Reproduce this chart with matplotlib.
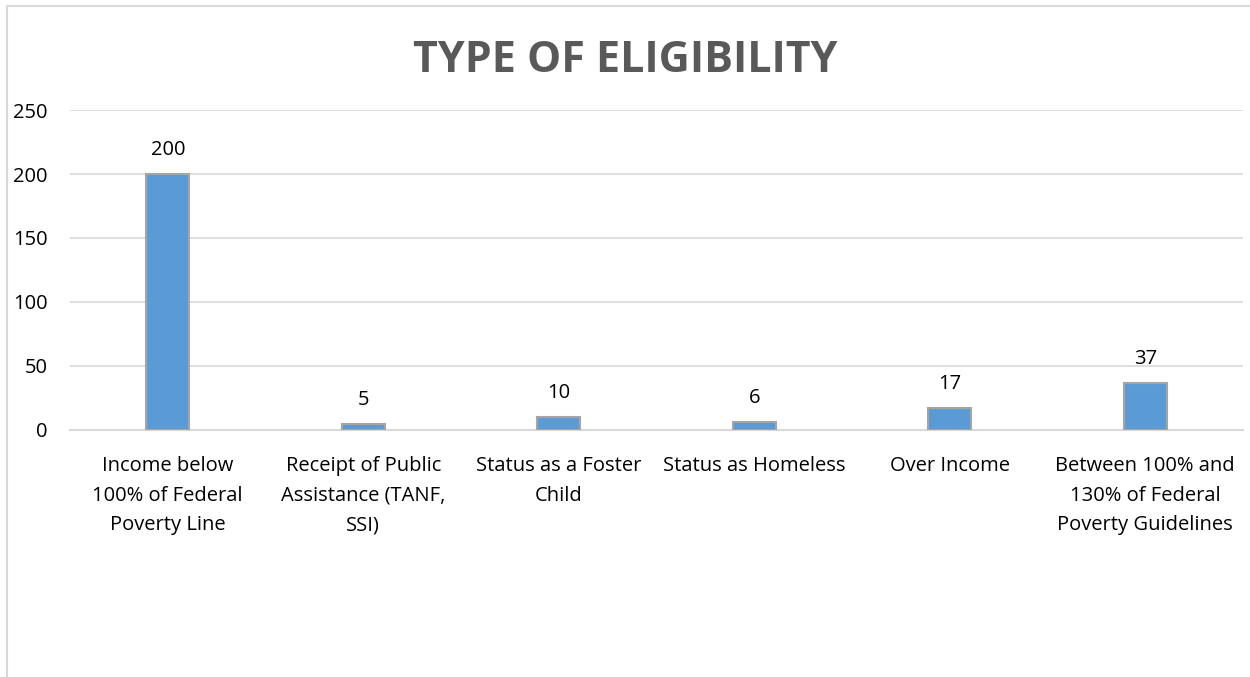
import matplotlib.pyplot as plt
from matplotlib.patches import Rectangle
import numpy as np

categories = ["Income below\n100% of Federal\nPoverty Line",
              "Receipt of Public\nAssistance (TANF,\nSSI)",
              "Status as a Foster\nChild",
              "Status as Homeless",
              "Over Income",
              "Between 100% and\n130% of Federal\nPoverty Guidelines"]
values = [200, 5, 10, 6, 17, 37]
yticks = [0, 50, 100, 150, 200, 250]

plt.rcParams['font.family'] = ['Open Sans', 'DejaVu Sans']

fig = plt.figure(figsize=(12.5, 6.77), dpi=100)
ax = fig.add_axes([0.056, 0.3649, 0.9384, 0.4726])

x = np.arange(len(categories))
ax.bar(x, values, width=0.22, color='#5B9BD5', edgecolor='#A5A5A5', linewidth=1.5, zorder=3)

for xi, v in zip(x, values):
    ax.annotate(str(v), (xi, v), xytext=(0, 10), textcoords='offset points',
                ha='center', va='bottom', fontsize=14.5, color='#000000')

ax.set_xlim(-0.5, len(categories) - 0.5)
ax.set_ylim(0, 250)
ax.set_yticks(yticks)
ax.set_xticks(x)
ax.set_xticklabels(categories, fontsize=14.5, linespacing=1.66)
ax.tick_params(axis='y', length=0, pad=16, labelsize=14.5)
ax.tick_params(axis='x', length=0, pad=18.5)
ax.grid(axis='y', color='#D9D9D9', linewidth=1.2, zorder=0)
for s in ['top', 'right', 'left']:
    ax.spines[s].set_visible(False)
ax.spines['bottom'].set_color('#D9D9D9')
ax.spines['bottom'].set_linewidth(1.5)

fig.text(0.5, 0.911, "TYPE OF ELIGIBILITY", ha='center', va='center',
         fontsize=31, fontweight='bold', color='#595959')

# chart area frame
fig.patches.append(Rectangle((7 / 1250, -0.1), 1.2, 1 - 6 / 677 + 0.1,
                             transform=fig.transFigure, fill=False,
                             edgecolor='#D9D9D9', linewidth=1.5))

fig.savefig('out.png', dpi=100)
